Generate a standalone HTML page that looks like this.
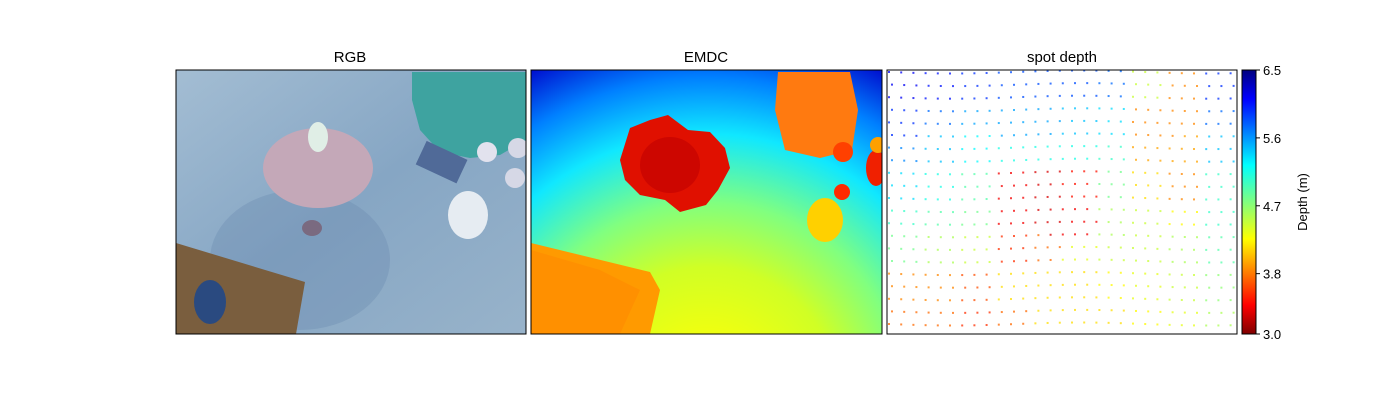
<!DOCTYPE html>
<html><head><meta charset="utf-8"><style>
body{margin:0;background:#fff;font-family:"Liberation Sans",sans-serif}
</style></head><body>
<svg width="1400" height="400" xmlns="http://www.w3.org/2000/svg" font-family="Liberation Sans, sans-serif">
<defs>
 <linearGradient id="rgbbg" x1="0" y1="0" x2="1" y2="1"><stop offset="0" stop-color="#a3bdd3"/><stop offset="0.5" stop-color="#86a6c4"/><stop offset="1" stop-color="#98b3ca"/></linearGradient>
 <radialGradient id="emdc" gradientUnits="userSpaceOnUse" cx="707" cy="400" r="380">
  <stop offset="0.17" stop-color="#f0ff10"/><stop offset="0.35" stop-color="#d0ff25"/><stop offset="0.52" stop-color="#80ff80"/><stop offset="0.7" stop-color="#10e8ff"/><stop offset="0.85" stop-color="#0080ff"/><stop offset="1" stop-color="#0000c8"/>
 </radialGradient>
 <linearGradient id="cbar" x1="0" y1="0" x2="0" y2="1">
  <stop offset="0" stop-color="#00007f"/><stop offset="0.11" stop-color="#0000ff"/><stop offset="0.36" stop-color="#00ffff"/><stop offset="0.5" stop-color="#80ff80"/><stop offset="0.64" stop-color="#ffff00"/><stop offset="0.89" stop-color="#ff0000"/><stop offset="1" stop-color="#7f0000"/>
 </linearGradient>
 <clipPath id="c1"><rect x="176" y="70" width="350" height="264"/></clipPath>
 <clipPath id="c2"><rect x="531" y="70" width="351" height="264"/></clipPath>
</defs>
<text x="350" y="62" font-size="15" text-anchor="middle">RGB</text>
<text x="706" y="62" font-size="15" text-anchor="middle">EMDC</text>
<text x="1062" y="62" font-size="15" text-anchor="middle">spot depth</text>

<g clip-path="url(#c1)">
 <rect x="176" y="70" width="350" height="264" fill="url(#rgbbg)"/>
 <ellipse cx="300" cy="260" rx="90" ry="70" fill="#6a8ab0" opacity="0.35"/>
 <path d="M412 72 L526 72 L526 140 L500 155 L470 158 L440 152 L420 130 L412 100 Z" fill="#3ea3a0"/>
 <rect x="418" y="150" width="45" height="26" fill="#506a98" transform="rotate(25 443 165)"/>
 <ellipse cx="318" cy="168" rx="55" ry="40" fill="#c4a8b8"/>
 <ellipse cx="318" cy="137" rx="10" ry="15" fill="#e0eee6"/>
 <ellipse cx="468" cy="215" rx="20" ry="24" fill="#e6ecf2"/>
 <circle cx="487" cy="152" r="10" fill="#e2e2ee"/>
 <circle cx="518" cy="148" r="10" fill="#d6d8e6"/>
 <circle cx="515" cy="178" r="10" fill="#d6d8e6"/>
 <path d="M176 243 L305 282 L296 334 L176 334 Z" fill="#7a5e3e"/>
 <ellipse cx="210" cy="302" rx="16" ry="22" fill="#2a4a80"/>
 <ellipse cx="312" cy="228" rx="10" ry="8" fill="#7a6a80"/>
</g>
<rect x="176" y="70" width="350" height="264" fill="none" stroke="#000" stroke-width="1"/>

<g clip-path="url(#c2)">
 <rect x="531" y="70" width="351" height="264" fill="url(#emdc)"/>
 <path d="M531 243 L650 272 L660 290 L650 334 L531 334 Z" fill="#ff9a00"/>
 <path d="M531 250 L600 270 L640 290 L620 334 L531 334Z" fill="#ff8a00" opacity="0.6"/>
 <path d="M630 128 L650 120 L668 115 L688 130 L710 132 L725 148 L730 168 L718 190 L706 205 L680 212 L665 200 L640 195 L625 180 L620 160 Z" fill="#e01000"/>
 <ellipse cx="670" cy="165" rx="30" ry="28" fill="#c00000" opacity="0.6"/>
 <path d="M778 72 L850 72 L858 110 L852 150 L820 158 L785 150 L775 110 Z" fill="#ff7a10"/>
 <ellipse cx="825" cy="220" rx="18" ry="22" fill="#ffd000"/>
 <circle cx="843" cy="152" r="10" fill="#ff4000"/>
 <circle cx="842" cy="192" r="8" fill="#ff2a00"/>
 <ellipse cx="876" cy="168" rx="10" ry="18" fill="#f02000"/>
 <circle cx="878" cy="145" r="8" fill="#ffa000"/>
</g>
<rect x="531" y="70" width="351" height="264" fill="none" stroke="#000" stroke-width="1"/>

<g id="dots"></g>
<rect x="887" y="70" width="350" height="264" fill="none" stroke="#000" stroke-width="1"/>

<rect x="1242" y="70" width="14" height="264" fill="url(#cbar)" stroke="#000" stroke-width="1"/>
<g id="cbticks" font-size="13"></g>
<text x="1307" y="202" font-size="13" text-anchor="middle" transform="rotate(-90 1307 202)">Depth (m)</text>
</svg>
<script>
const NS="http://www.w3.org/2000/svg";
const tickValues=[6.5,5.6,4.7,3.8,3.0];
const tickLabels=["6.5","5.6","4.7","3.8","3.0"];
const dMin=3.0,dMax=6.5;
const depthGrid=[
 [6.1,6.0,5.9,5.8,5.8,5.8,5.7,4.5,3.9,5.9],
 [5.9,5.7,5.5,5.5,5.5,5.4,5.3,3.9,3.9,5.7],
 [5.6,5.4,5.2,5.1,5.1,5.1,5.0,4.0,4.0,5.4],
 [5.3,5.1,4.9,3.4,3.3,3.5,4.8,4.2,3.9,5.0],
 [5.0,4.9,4.8,3.4,3.3,3.4,4.6,4.5,4.3,5.0],
 [4.8,4.6,4.5,3.6,3.8,4.4,4.5,4.5,4.6,4.9],
 [3.9,3.9,3.7,4.2,4.2,4.2,4.3,4.4,4.5,4.7],
 [3.8,3.8,3.6,3.8,4.2,4.2,4.2,4.3,4.4,4.6]
];
function cbY(v){return 70+(dMax-v)/(dMax-dMin)*264;}
function jet(d){const v=Math.min(1,Math.max(0,(dMax-d)/(dMax-dMin)));const c=x=>Math.round(255*Math.min(1,Math.max(0,1.5-Math.abs(4*v-x))));return `rgb(${c(3)},${c(2)},${c(1)})`;}
const tg=document.getElementById('cbticks');
tickValues.forEach((v,i)=>{
 const y=cbY(v);
 const l=document.createElementNS(NS,'line');
 l.setAttribute('x1',1256);l.setAttribute('x2',1260);l.setAttribute('y1',y);l.setAttribute('y2',y);l.setAttribute('stroke','#000');
 
 
 tg.appendChild(l);
 const t=document.createElementNS(NS,'text');
 t.setAttribute('x',1263);t.setAttribute('y',y+5);t.textContent=tickLabels[i];
 
 
 tg.appendChild(t);
});
const dg=document.getElementById('dots');
const rows=depthGrid.length,cols=depthGrid[0].length;
for(let r=0;r<21;r++){for(let c=0;c<29;c++){
 const y=72+r*12.6+Math.sin(c*0.3)*1.5;
 const x=889+c*12.2+(r%2)*3;
 if(x>1236||y>333)continue;
 const gr=Math.min(rows-1,Math.floor((y-70)/264*rows)),gc=Math.min(cols-1,Math.floor((x-887)/350*cols));
 const p=document.createElementNS(NS,'rect');
 p.setAttribute('x',x-1);p.setAttribute('y',y-1);p.setAttribute('width',2);p.setAttribute('height',2);
 p.setAttribute('fill',jet(depthGrid[gr][gc]));p.setAttribute('opacity',0.75);
 
 
 dg.appendChild(p);
}}
</script>
</body></html>
